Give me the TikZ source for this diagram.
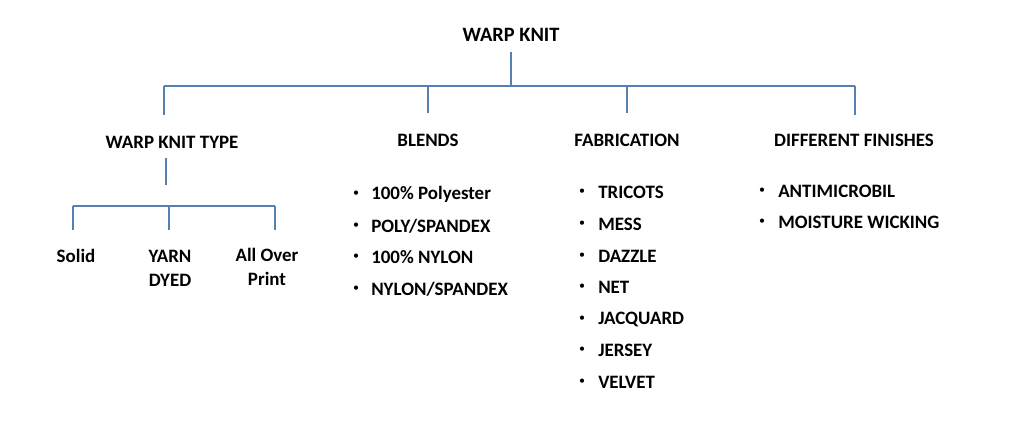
\documentclass[tikz,border=0pt]{standalone}
\usepackage{fontspec}
\setmainfont{Carlito}
\usetikzlibrary{calc}
\definecolor{linkblue}{RGB}{86,128,176}
\tikzset{
	lbl/.style={font=\bfseries\fontsize{14.2}{16}\selectfont, inner sep=0pt, align=center},
	item/.style={lbl, anchor=west},
	dot/.style={font=\fontsize{9}{11}\selectfont, inner sep=0pt},
	link/.style={draw=linkblue, line width=0.8pt}
}

\begin{document}
\begin{tikzpicture}[x=0.75pt, y=-0.75pt]
			%%%%% START %%%%%
			
			\useasboundingbox[fill=white] (0, 0) rectangle (1026, 437);
			
			\node[lbl, font=\bfseries\fontsize{15.3}{17}\selectfont] (root) at (511, 35) {WARP KNIT};
			
			\node[lbl] (type) at (172, 142) {WARP KNIT TYPE};
			\node[lbl] (blends) at (428, 140) {BLENDS};
			\node[lbl] (fab) at (627, 140) {FABRICATION};
			\node[lbl] (fin) at (854, 140) {DIFFERENT FINISHES};
			
			\coordinate (busL) at (164, 86);
			\coordinate (busR) at (855, 86);
			
			\draw[link] ($(root.south)+(0, 10)$) -- (root |- busL);
			\draw[link] (busL) -- (busR);
			\draw[link] (busL) -- (164, 115);
			\draw[link] (blends |- busL) -- ($(blends.north)+(0, -20)$);
			\draw[link] (fab |- busL) -- ($(fab.north)+(0, -20)$);
			\draw[link] (busR) -- (855, 115);
			
			\node[lbl] (solid) at (76, 256) {Solid};
			\node[lbl] (yarn) at (170, 268) {YARN\\[2pt]DYED};
			\node[lbl] (aop) at (267, 267) {All Over\\[2pt]Print};
			
			\coordinate (subL) at (73, 206);
			\coordinate (subR) at (275, 206);
			
			\draw[link] ($(type.south)+(-6, 10)$) -- ++(0, 27);
			\draw[link] (subL) -- (subR);
			\draw[link] (subL) -- (73, 230);
			\draw[link] (169, 206) -- (169, 230);
			\draw[link] (subR) -- (275, 230);
			
			\node[dot] at (356, 194) {\textbullet};
			\node[item] (b1) at (371, 194) {100\% Polyester};
			\node[dot] at (356, 226) {\textbullet};
			\node[item] (b2) at (371, 226) {POLY/SPANDEX};
			\node[dot] at (356, 257) {\textbullet};
			\node[item] (b3) at (371, 257) {100\% NYLON};
			\node[dot] at (356, 289) {\textbullet};
			\node[item] (b4) at (371, 289) {NYLON/SPANDEX};
			
			\node[dot] at (582, 192) {\textbullet};
			\node[item] (f1) at (598, 192) {TRICOTS};
			\node[dot] at (582, 224) {\textbullet};
			\node[item] (f2) at (598, 224) {MESS};
			\node[dot] at (582, 256) {\textbullet};
			\node[item] (f3) at (598, 256) {DAZZLE};
			\node[dot] at (582, 287) {\textbullet};
			\node[item] (f4) at (598, 287) {NET};
			\node[dot] at (582, 319) {\textbullet};
			\node[item] (f5) at (598, 319) {JACQUARD};
			\node[dot] at (582, 350) {\textbullet};
			\node[item] (f6) at (598, 350) {JERSEY};
			\node[dot] at (582, 382) {\textbullet};
			\node[item] (f7) at (598, 382) {VELVET};
			
			\node[dot] at (762, 191) {\textbullet};
			\node[item] (d1) at (778, 191) {ANTIMICROBIL};
			\node[dot] at (762, 222) {\textbullet};
			\node[item] (d2) at (778, 222) {MOISTURE WICKING};
			
			%%%%% END %%%%%
\end{tikzpicture}
\end{document}
